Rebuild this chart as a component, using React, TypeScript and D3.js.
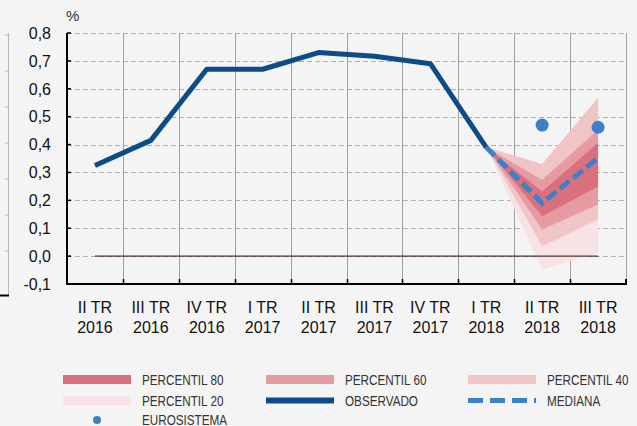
import React from "react";
import * as d3 from "d3";

const quarterLabels = ["II TR", "III TR", "IV TR", "I TR", "II TR", "III TR", "IV TR", "I TR", "II TR", "III TR"];
const yearLabels = ["2016", "2016", "2016", "2017", "2017", "2017", "2017", "2018", "2018", "2018"];
const categories = quarterLabels.map((q, i) => `${q} ${yearLabels[i]}`);

const observado = [0.325, 0.415, 0.67, 0.67, 0.73, 0.717, 0.69, 0.39];

const fanCategories = ["I TR 2018", "II TR 2018", "III TR 2018"];
const p20Low = [0.39, -0.048, 0.011];
const p20High = [0.39, 0.33, 0.567];
const p40Low = [0.39, 0.035, 0.131];
const p40High = [0.39, 0.33, 0.567];
const p60Low = [0.39, 0.095, 0.185];
const p60High = [0.39, 0.274, 0.453];
const p80Low = [0.39, 0.143, 0.25];
const p80High = [0.39, 0.232, 0.406];
const mediana = [0.39, 0.19, 0.352];

const euroCategories = ["II TR 2018", "III TR 2018"];
const eurosistema = [0.47, 0.462];

const yTicks = [-0.1, 0, 0.1, 0.2, 0.3, 0.4, 0.5, 0.6, 0.7, 0.8];

const C_P80 = "#d9707c";
const C_P60 = "#e69aa1";
const C_P40 = "#f0c5c8";
const C_P20 = "#f7e2e4";
const C_OBS = "#0d4c87";
const C_MED = "#3e80c8";

export default function App() {
  const W = 637, H = 426;
  const left = 67, right = 626, top = 33, bottom = 284;
  const x = d3.scaleBand<string>().domain(categories).range([left, right]).padding(0);
  const cx = (c: string) => (x(c) as number) + x.bandwidth() / 2;
  const y = d3.scaleLinear().domain([-0.1, 0.8]).range([bottom, top]);

  const obsLine = d3.line<number>().x((_, i) => cx(categories[i])).y((d) => y(d))(observado) as string;
  const band = (lo: number[], hi: number[]) =>
    d3.area<number>()
      .x((_, i) => cx(fanCategories[i]))
      .y0((_, i) => y(lo[i]))
      .y1((_, i) => y(hi[i]))(lo) as string;
  const medLine = d3.line<number>().x((_, i) => cx(fanCategories[i])).y((d) => y(d))(mediana) as string;

  const font = "'Liberation Sans', Arial, sans-serif";

  const legend = [
    { label: "PERCENTIL 80", color: C_P80, kind: "rect", col: 0, row: 0 },
    { label: "PERCENTIL 60", color: C_P60, kind: "rect", col: 1, row: 0 },
    { label: "PERCENTIL 40", color: C_P40, kind: "rect", col: 2, row: 0 },
    { label: "PERCENTIL 20", color: C_P20, kind: "rect", col: 0, row: 1 },
    { label: "OBSERVADO", color: C_OBS, kind: "line", col: 1, row: 1 },
    { label: "MEDIANA", color: C_MED, kind: "dash", col: 2, row: 1 },
    { label: "EUROSISTEMA", color: C_MED, kind: "dot", col: 0, row: 2 },
  ];
  const colX = [63, 266, 468];
  const rowY = [379.5, 400.5, 420];

  // remnant of neighbouring chart at left edge
  const remY = d3.scaleLinear().domain([0, 7]).range([35, 287]);

  return (
    <svg width={W} height={H} style={{ position: "absolute", left: 0, top: 0, background: "#f4f4f4" }}>
      <rect x={0} y={0} width={W} height={H} fill="#f4f4f4" />
      {/* left remnant */}
      <line x1={8.5} x2={8.5} y1={33} y2={296} stroke="#b8b8b8" strokeWidth={1} />
      {d3.range(7).map((i) => (
        <line key={i} x1={5} x2={8.5} y1={remY(i)} y2={remY(i)} stroke="#b8b8b8" />
      ))}
      <line x1={0} x2={9} y1={295.5} y2={295.5} stroke="#000" strokeWidth={2} />

      {/* horizontal gridlines */}
      {yTicks.filter((t) => t > -0.1).map((t) => (
        <line key={t} x1={left} x2={right - 2} y1={Math.round(y(t)) + 0.5} y2={Math.round(y(t)) + 0.5}
          stroke="#b0b0b0" strokeWidth={1} strokeDasharray="5,3" />
      ))}
      {/* vertical gridlines */}
      {categories.map((c, i) => i > 0 ? (
        <line key={c} x1={Math.round(x(c) as number) + 0.5} x2={Math.round(x(c) as number) + 0.5} y1={top} y2={bottom}
          stroke="#a0a0a0" strokeWidth={1} />
      ) : null)}
      <line x1={right + 0.5} x2={right + 0.5} y1={top} y2={bottom} stroke="#a0a0a0" strokeWidth={1} />

      {/* fan */}
      <path d={band(p20Low, p20High)} fill={C_P20} />
      <path d={band(p40Low, p40High)} fill={C_P40} />
      <path d={band(p60Low, p60High)} fill={C_P60} />
      <path d={band(p80Low, p80High)} fill={C_P80} />

      {/* zero line */}
      <line x1={cx(categories[0])} x2={cx(categories[categories.length - 1])} y1={y(0)} y2={y(0)}
        stroke="#4a3434" strokeWidth={1.2} />

      {/* axes */}
      <line x1={left} x2={left} y1={top} y2={bottom + 1} stroke="#000" strokeWidth={2} />
      {yTicks.map((t) => (
        <line key={t} x1={left} x2={left + 4} y1={y(t)} y2={y(t)} stroke="#000" strokeWidth={1.5} />
      ))}
      <line x1={left - 1} x2={right + 1} y1={bottom} y2={bottom} stroke="#000" strokeWidth={2} />
      {categories.map((c, i) => i > 0 ? (
        <line key={c} x1={Math.round(x(c) as number) + 0.5} x2={Math.round(x(c) as number) + 0.5} y1={bottom - 5} y2={bottom}
          stroke="#000" strokeWidth={1.5} />
      ) : null)}
      <line x1={right} x2={right} y1={bottom - 5} y2={bottom} stroke="#000" strokeWidth={2} />

      {/* observed */}
      <path d={obsLine} fill="none" stroke={C_OBS} strokeWidth={5} strokeLinejoin="round" />
      {/* median */}
      <path d={medLine} fill="none" stroke={C_MED} strokeWidth={5} strokeDasharray="12,5" />
      {/* eurosistema */}
      {euroCategories.map((c, i) => (
        <circle key={c} cx={cx(c)} cy={y(eurosistema[i])} r={6.5} fill={C_MED} />
      ))}

      {/* y labels */}
      {yTicks.map((t) => (
        <text key={t} x={51} y={y(t)} dy="0.36em" textAnchor="end" fontFamily={font} fontSize={16} fill="#111">
          {d3.format(".1f")(t).replace(".", ",").replace("−", "-")}
        </text>
      ))}
      <text x={66} y={21} fontFamily={font} fontSize={15} fill="#333">%</text>

      {/* x labels */}
      {categories.map((c, i) => (
        <g key={c}>
          <text x={cx(c)} y={312.5} textAnchor="middle" fontFamily={font} fontSize={16} fill="#111">{quarterLabels[i]}</text>
          <text x={cx(c)} y={333} textAnchor="middle" fontFamily={font} fontSize={16} fill="#111">{yearLabels[i]}</text>
        </g>
      ))}

      {/* legend */}
      {legend.map((l) => {
        const lx = colX[l.col];
        const ly = rowY[l.row];
        return (
          <g key={l.label}>
            {l.kind === "rect" && <rect x={lx} y={ly - 4.5} width={68} height={9} fill={l.color} />}
            {l.kind === "line" && <line x1={lx} x2={lx + 68} y1={ly} y2={ly} stroke={l.color} strokeWidth={6} />}
            {l.kind === "dash" && <line x1={lx} x2={lx + 68} y1={ly} y2={ly} stroke={l.color} strokeWidth={5} strokeDasharray="15,7" />}
            {l.kind === "dot" && <circle cx={lx + 34} cy={ly} r={4} fill={l.color} />}
            <g transform={`translate(${lx + 79},${ly}) scale(0.78,1)`}>
              <text x={0} y={0} dy="0.36em" fontFamily={font} fontSize={15} fill="#333">{l.label}</text>
            </g>
          </g>
        );
      })}
    </svg>
  );
}
